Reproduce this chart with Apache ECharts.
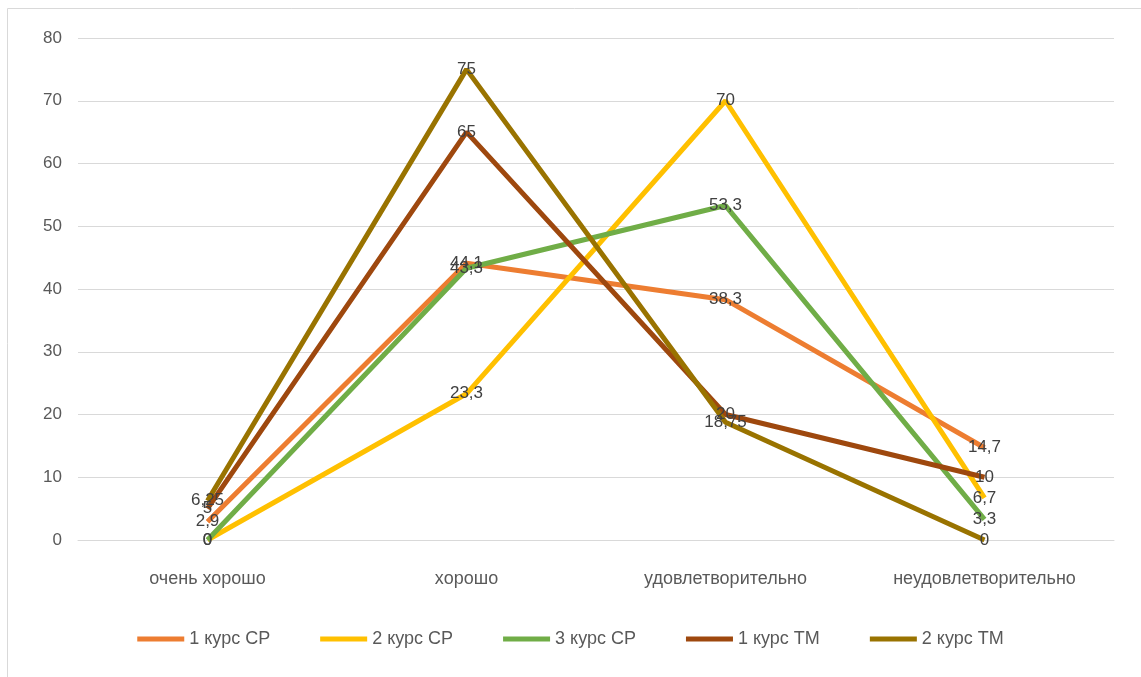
<!DOCTYPE html>
<html><head><meta charset="utf-8">
<script src="https://cdn.jsdelivr.net/npm/echarts@6/dist/echarts.min.js"></script>
<style>html,body{margin:0;padding:0;background:#fff}#c{width:1141px;height:677px}</style>
</head><body><div id="c"></div>
<script>
const categories = ['очень хорошо', 'хорошо', 'удовлетворительно', 'неудовлетворительно'];
const seriesNames = ['1 курс СР', '2 курс СР', '3 курс СР', '1 курс ТМ', '2 курс ТМ'];
const s1CP = [2.9, 44.1, 38.3, 14.7];
const s2CP = [0, 23.3, 70, 6.7];
const s3CP = [0, 43.3, 53.3, 3.3];
const s1TM = [5, 65, 20, 10];
const s2TM = [6.25, 75, 18.75, 0];
const yTicks = [0, 10, 20, 30, 40, 50, 60, 70, 80];
const colors = ['#ED7D31', '#FFC000', '#70AD47', '#9E480E', '#997300'];

const dataList = [s1CP, s2CP, s3CP, s1TM, s2TM];
const font = '"Liberation Sans", sans-serif';
const chart = echarts.init(document.getElementById('c'));
chart.setOption({
  animation: false,
  color: colors,
  graphic: [{type: 'rect', shape: {x: 7.5, y: 8.5, width: 1140, height: 680}, style: {fill: 'none', stroke: '#D9D9D9', lineWidth: 1}, silent: true}],
  grid: {left: 78, right: 27, top: 38, bottom: 137},
  legend: {
    bottom: 24, left: 'center', itemWidth: 47, itemHeight: 5, itemGap: 50, icon: 'rect',
    textStyle: {fontFamily: font, fontSize: 18, color: '#595959'},
    data: seriesNames.map((n, i) => ({name: n, itemStyle: {color: colors[i], opacity: 1}}))
  },
  xAxis: {
    type: 'category', data: categories, boundaryGap: true,
    axisLine: {lineStyle: {color: '#D9D9D9'}}, axisTick: {show: false},
    axisLabel: {fontFamily: font, fontSize: 18, color: '#595959', margin: 30}
  },
  yAxis: {
    type: 'value', min: yTicks[0], max: yTicks[yTicks.length - 1], interval: 10,
    axisLine: {show: false}, axisTick: {show: false},
    splitLine: {lineStyle: {color: '#D9D9D9'}},
    axisLabel: {fontFamily: font, fontSize: 17, color: '#595959', margin: 16}
  },
  series: seriesNames.map((n, i) => ({
    name: n, type: 'line', data: dataList[i],
    symbol: 'circle', symbolSize: 1, showSymbol: true,
    lineStyle: {width: 5, color: colors[i]},
    itemStyle: {color: 'rgba(0,0,0,0)'},
    label: {show: true, position: 'inside', fontFamily: font, fontSize: 17, color: '#404040',
      formatter: p => String(p.value).replace('.', ',')}
  }))
});
</script></body></html>
